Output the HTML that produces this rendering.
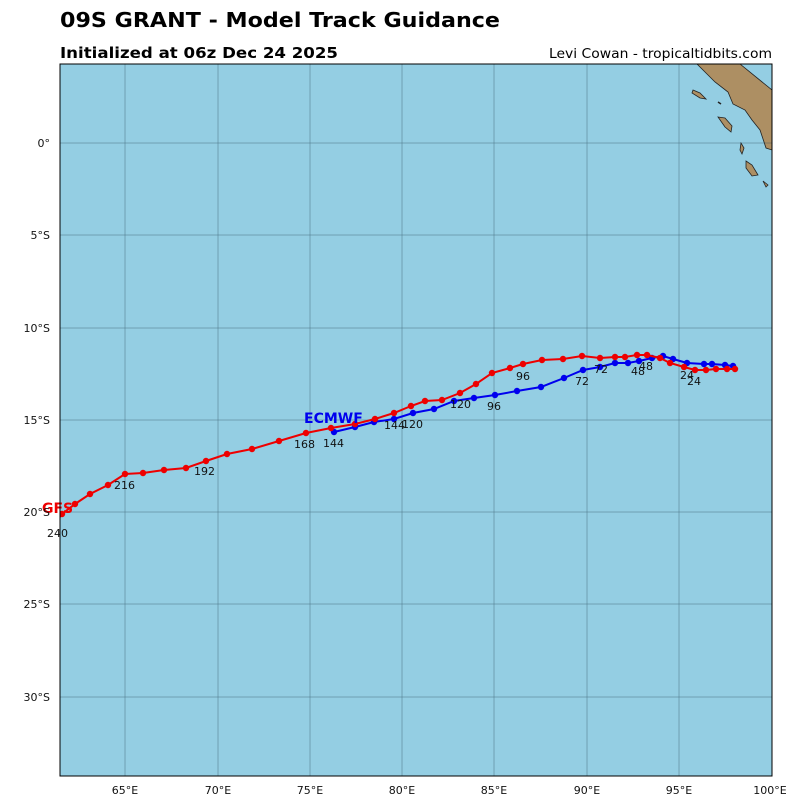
<!DOCTYPE html>
<html><head><meta charset="utf-8"><style>
body{margin:0;background:#fff;font-family:"DejaVu Sans",sans-serif;}
</style></head><body>
<svg width="800" height="800" xmlns="http://www.w3.org/2000/svg" font-family="DejaVu Sans, sans-serif">
<rect width="800" height="800" fill="#fff"/>
<text x="60" y="27" font-size="20" font-weight="bold" textLength="440" lengthAdjust="spacingAndGlyphs">09S GRANT - Model Track Guidance</text>
<text x="60" y="58" font-size="15" font-weight="bold" textLength="278" lengthAdjust="spacingAndGlyphs">Initialized at 06z Dec 24 2025</text>
<text x="549" y="58" font-size="13.5" textLength="223" lengthAdjust="spacingAndGlyphs">Levi Cowan - tropicaltidbits.com</text>
<defs><clipPath id="c"><rect x="60" y="64" width="712" height="712"/></clipPath></defs>
<rect x="60" y="64" width="712" height="712" fill="#94cee3"/>
<g clip-path="url(#c)">
<path d="M697,64 L740,64 L772,90 L772,150 L766,148 L760,130 L752,120 L745,110 L733,104 L728,92 L715,82 L705,72 Z" fill="#ad8f63" stroke="#222" stroke-width="0.8"/>
<path d="M693,90 L700,93 L706,99 L700,98 L692,93 Z" fill="#ad8f63" stroke="#222" stroke-width="0.8"/>
<path d="M718,117 L725,118 L732,126 L731,132 L725,127 Z" fill="#ad8f63" stroke="#222" stroke-width="0.8"/>
<path d="M741,143 L744,148 L742,154 L740,150 Z" fill="#ad8f63" stroke="#222" stroke-width="0.8"/>
<path d="M746,161 L752,165 L758,175 L752,176 L746,168 Z" fill="#ad8f63" stroke="#222" stroke-width="0.8"/>
<path d="M763,181 L768,185 L766,187 Z" fill="#ad8f63" stroke="#222" stroke-width="0.8"/>
<path d="M718,102 L721,104" stroke="#222" stroke-width="1.5"/>
<g stroke="#2a4a5a" stroke-width="0.5" opacity="0.7">
<line x1="125" y1="64" x2="125" y2="776"/><line x1="218" y1="64" x2="218" y2="776"/><line x1="310" y1="64" x2="310" y2="776"/><line x1="402" y1="64" x2="402" y2="776"/><line x1="494" y1="64" x2="494" y2="776"/><line x1="587" y1="64" x2="587" y2="776"/><line x1="679" y1="64" x2="679" y2="776"/>
<line x1="60" y1="143" x2="772" y2="143"/><line x1="60" y1="235" x2="772" y2="235"/><line x1="60" y1="328" x2="772" y2="328"/><line x1="60" y1="420" x2="772" y2="420"/><line x1="60" y1="512" x2="772" y2="512"/><line x1="60" y1="604" x2="772" y2="604"/><line x1="60" y1="697" x2="772" y2="697"/>
</g>
<polyline fill="none" stroke="#0000ee" stroke-width="2" points="733,366 725,365 712,364 704,364 687,363 673,359 663,356 652,358 639,361 628,363 615,363 600,367 583,370 564,378 541,387 517,391 495,395 474,398 454,401 434,409 413,413 394,419 374,422 355,427 334,432"/>
<g fill="#0000ee"><circle cx="733" cy="366" r="3.2"/><circle cx="725" cy="365" r="3.2"/><circle cx="712" cy="364" r="3.2"/><circle cx="704" cy="364" r="3.2"/><circle cx="687" cy="363" r="3.2"/><circle cx="673" cy="359" r="3.2"/><circle cx="663" cy="356" r="3.2"/><circle cx="652" cy="358" r="3.2"/><circle cx="639" cy="361" r="3.2"/><circle cx="628" cy="363" r="3.2"/><circle cx="615" cy="363" r="3.2"/><circle cx="600" cy="367" r="3.2"/><circle cx="583" cy="370" r="3.2"/><circle cx="564" cy="378" r="3.2"/><circle cx="541" cy="387" r="3.2"/><circle cx="517" cy="391" r="3.2"/><circle cx="495" cy="395" r="3.2"/><circle cx="474" cy="398" r="3.2"/><circle cx="454" cy="401" r="3.2"/><circle cx="434" cy="409" r="3.2"/><circle cx="413" cy="413" r="3.2"/><circle cx="394" cy="419" r="3.2"/><circle cx="374" cy="422" r="3.2"/><circle cx="355" cy="427" r="3.2"/><circle cx="334" cy="432" r="3.2"/></g>
<polyline fill="none" stroke="#ee0000" stroke-width="2" points="735,369 727,369 716,369 706,370 695,370 684,367 670,363 660,358 647,355 637,355 625,357 615,357 600,358 582,356 563,359 542,360 523,364 510,368 492,373 476,384 460,393 442,400 425,401 411,406 394,413 375,419 355,424 331,428 306,433 279,441 252,449 227,454 206,461 186,468 164,470 143,473 125,474 108,485 90,494 75,504 62,514 56,522"/>
<g fill="#ee0000"><circle cx="735" cy="369" r="3.2"/><circle cx="727" cy="369" r="3.2"/><circle cx="716" cy="369" r="3.2"/><circle cx="706" cy="370" r="3.2"/><circle cx="695" cy="370" r="3.2"/><circle cx="684" cy="367" r="3.2"/><circle cx="670" cy="363" r="3.2"/><circle cx="660" cy="358" r="3.2"/><circle cx="647" cy="355" r="3.2"/><circle cx="637" cy="355" r="3.2"/><circle cx="625" cy="357" r="3.2"/><circle cx="615" cy="357" r="3.2"/><circle cx="600" cy="358" r="3.2"/><circle cx="582" cy="356" r="3.2"/><circle cx="563" cy="359" r="3.2"/><circle cx="542" cy="360" r="3.2"/><circle cx="523" cy="364" r="3.2"/><circle cx="510" cy="368" r="3.2"/><circle cx="492" cy="373" r="3.2"/><circle cx="476" cy="384" r="3.2"/><circle cx="460" cy="393" r="3.2"/><circle cx="442" cy="400" r="3.2"/><circle cx="425" cy="401" r="3.2"/><circle cx="411" cy="406" r="3.2"/><circle cx="394" cy="413" r="3.2"/><circle cx="375" cy="419" r="3.2"/><circle cx="355" cy="424" r="3.2"/><circle cx="331" cy="428" r="3.2"/><circle cx="306" cy="433" r="3.2"/><circle cx="279" cy="441" r="3.2"/><circle cx="252" cy="449" r="3.2"/><circle cx="227" cy="454" r="3.2"/><circle cx="206" cy="461" r="3.2"/><circle cx="186" cy="468" r="3.2"/><circle cx="164" cy="470" r="3.2"/><circle cx="143" cy="473" r="3.2"/><circle cx="125" cy="474" r="3.2"/><circle cx="108" cy="485" r="3.2"/><circle cx="90" cy="494" r="3.2"/><circle cx="75" cy="504" r="3.2"/><circle cx="62" cy="514" r="3.2"/></g>
</g>
<g font-size="11" fill="#111">
<text x="680" y="379">24</text><text x="687" y="385">24</text>
<text x="631" y="375">48</text><text x="639" y="370">48</text>
<text x="575" y="385">72</text><text x="594" y="373">72</text>
<text x="487" y="410">96</text><text x="516" y="380">96</text>
<text x="450" y="408">120</text><text x="402" y="428">120</text>
<text x="384" y="429">144</text><text x="323" y="447">144</text>
<text x="294" y="448">168</text><text x="194" y="475">192</text>
<text x="114" y="489">216</text><text x="47" y="537">240</text>
</g>
<text x="304" y="423" font-size="14" font-weight="bold" fill="#0000ee">ECMWF</text>
<text x="42" y="513" font-size="14" font-weight="bold" fill="#ee0000">GFS</text>
<rect x="60" y="64" width="712" height="712" fill="none" stroke="#000" stroke-width="1"/>
<g font-size="11" fill="#111" text-anchor="end">
<text x="50" y="147">0°</text><text x="50" y="239">5°S</text><text x="50" y="332">10°S</text><text x="50" y="424">15°S</text><text x="50" y="516">20°S</text><text x="50" y="608">25°S</text><text x="50" y="701">30°S</text>
</g>
<g font-size="11" fill="#111" text-anchor="middle">
<text x="125" y="794">65°E</text><text x="218" y="794">70°E</text><text x="310" y="794">75°E</text><text x="402" y="794">80°E</text><text x="494" y="794">85°E</text><text x="587" y="794">90°E</text><text x="679" y="794">95°E</text><text x="770" y="794">100°E</text>
</g>
</svg>
</body></html>
